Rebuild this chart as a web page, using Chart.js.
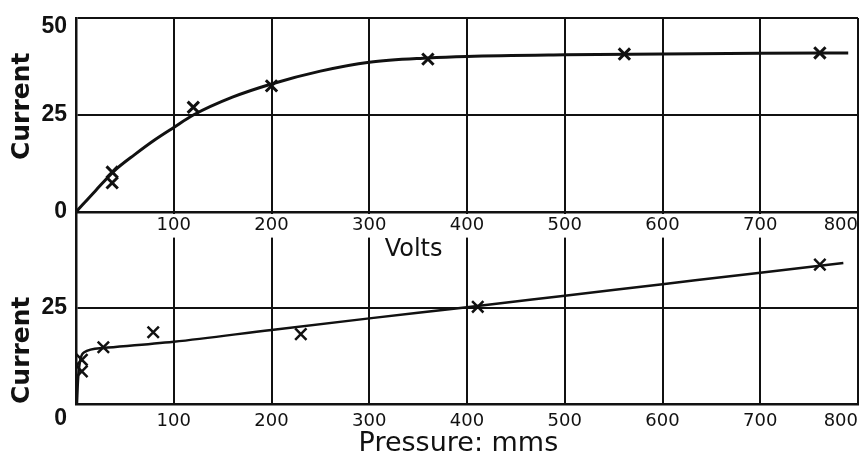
<!DOCTYPE html>
<html>
<head>
<meta charset="utf-8">
<script src="https://cdn.jsdelivr.net/npm/chart.js@4.4.0/dist/chart.umd.min.js"></script>
<style>
  body { margin: 0; background: #fff; }
  #wrap { position: relative; width: 862px; height: 458px; }
  canvas { position: absolute; left: 0; top: 0; }
  #pressureChart { z-index: 1; }
  #voltsChart { z-index: 2; }
</style>
</head>
<body>
<div id="wrap">
  <canvas id="pressureChart" width="862" height="458"></canvas>
  <canvas id="voltsChart" width="862" height="270"></canvas>
</div>
<script>
// top panel : current against volts
const voltsMeasured = [37, 37, 120, 200, 360, 561, 761];
const voltsCurrent = [10.3, 7.5, 27, 32.5, 39.4, 40.7, 41];
const voltsCurveX = [0, 20, 40, 60, 80, 100, 120, 160, 200, 250, 300, 360, 400, 500, 600, 700, 790];
const voltsCurveY = [0, 5.5, 10.8, 14.8, 18.5, 21.8, 25, 29.6, 33, 36.3, 38.6, 39.7, 40.1, 40.5, 40.7, 40.9, 41];

// bottom panel : current against pressure
const pressureMeasured = [6, 6, 28, 79, 230, 411, 761];
const pressureCurrent = [8.5, 11.5, 14.8, 18.7, 18.2, 25.3, 36.3];
const pressureCurveX = [1, 2, 4, 8, 28, 100, 200, 300, 400, 500, 600, 700, 785];
const pressureCurveY = [0, 6, 11, 13.4, 14.6, 16.2, 19.3, 22.3, 25.2, 28.2, 31.2, 34.2, 36.7];

// tick values
const xTickValues = [0, 100, 200, 300, 400, 500, 600, 700, 800];
const yTickValues = [0, 25, 50];

const INK = "#111";
Chart.defaults.font.family = "DejaVu Sans";
Chart.defaults.color = INK;

const pts = (xs, ys) => xs.map((x, i) => ({ x: x, y: ys[i] }));

const curveSet = (data, width) => ({
  type: "line",
  data: data,
  borderColor: INK,
  borderWidth: width,
  pointRadius: 0,
  cubicInterpolationMode: "monotone",
  fill: false
});

const markerSet = (data, width) => ({
  type: "scatter",
  data: data,
  showLine: false,
  pointStyle: "crossRot",
  pointRadius: 8,
  borderColor: INK,
  borderWidth: width,
  clip: false
});

const gridOpts = { color: INK, lineWidth: 2, drawTicks: false };
const borderOpts = { display: true, color: INK, width: 2.5 };

// fixed axis sizes, no extra room asked for the end labels
const fitY = axis => {
  axis.width = 76;
  axis.paddingTop = 0;
  axis.paddingBottom = 0;
};
const fitX = h => axis => {
  axis.height = h;
  axis.paddingLeft = 0;
  axis.paddingRight = 0;
};

// bottom chart goes first, the top one lies over it
new Chart(document.getElementById("pressureChart"), {
  data: {
    datasets: [
      curveSet(pts(pressureCurveX, pressureCurveY), 2.5),
      markerSet(pts(pressureMeasured, pressureCurrent), 2.5)
    ]
  },
  options: {
    responsive: false,
    animation: false,
    layout: { autoPadding: false, padding: { top: 212, right: 4, left: 0, bottom: 0 } },
    plugins: { legend: { display: false }, tooltip: { enabled: false } },
    scales: {
      x: {
        type: "linear", min: 0, max: 800,
        afterBuildTicks: axis => { axis.ticks = xTickValues.map(v => ({ value: v })); },
        afterFit: fitX(54),
        grid: gridOpts, border: borderOpts,
        ticks: {
          align: "inner", maxRotation: 0, padding: 7,
          font: { size: 18 },
          callback: v => (v === 0 ? "" : String(v))
        },
        title: {
          display: true, text: "Pressure: mms  ",
          font: { size: 27, lineHeight: 1 },
          padding: { top: 0, bottom: 1 }
        }
      },
      y: {
        type: "linear", min: 0, max: 50,
        afterBuildTicks: axis => { axis.ticks = yTickValues.map(v => ({ value: v })); },
        afterFit: fitY,
        grid: gridOpts, border: borderOpts,
        ticks: {
          padding: 9,
          font: { family: "Liberation Sans", weight: "bold", size: 23, lineHeight: 1.25 },
          callback: v => (v === 0 ? ["", "0"] : v === 50 ? "" : String(v))
        },
        title: {
          display: true, text: "Current", align: "start",
          font: { size: 25, weight: "bold", lineHeight: 1 },
          padding: { top: 10, bottom: 0 }
        }
      }
    }
  }
});

new Chart(document.getElementById("voltsChart"), {
  data: {
    datasets: [
      curveSet(pts(voltsCurveX, voltsCurveY), 3),
      markerSet(pts(voltsMeasured, voltsCurrent), 3)
    ]
  },
  options: {
    responsive: false,
    animation: false,
    layout: { autoPadding: false, padding: { top: 18, right: 4, left: 0, bottom: 0 } },
    plugins: { legend: { display: false }, tooltip: { enabled: false } },
    scales: {
      x: {
        type: "linear", min: 0, max: 800,
        afterBuildTicks: axis => { axis.ticks = xTickValues.map(v => ({ value: v })); },
        afterFit: fitX(58),
        grid: gridOpts, border: borderOpts,
        ticks: {
          align: "inner", maxRotation: 0, padding: 3,
          font: { size: 18 },
          showLabelBackdrop: true,
          backdropColor: ctx => (ctx.index === 0 || ctx.index === xTickValues.length - 1 ? "rgba(0,0,0,0)" : "#fff"),
          backdropPadding: { top: 1, bottom: 1, left: 2, right: 2 },
          callback: v => (v === 0 ? "" : String(v))
        },
        title: {
          display: true, text: "Volts" + " ".repeat(14),
          font: { size: 24, lineHeight: 1 },
          padding: { top: 0, bottom: 8 }
        }
      },
      y: {
        type: "linear", min: 0, max: 50,
        afterBuildTicks: axis => { axis.ticks = yTickValues.map(v => ({ value: v })); },
        afterFit: fitY,
        grid: gridOpts, border: borderOpts,
        ticks: {
          padding: 9,
          font: { family: "Liberation Sans", weight: "bold", size: 23, lineHeight: 0.75 },
          callback: v => (v === 50 ? ["", "50"] : String(v))
        },
        title: {
          display: true, text: "  Current",
          font: { size: 25, weight: "bold", lineHeight: 1 },
          padding: { top: 10, bottom: 0 }
        }
      }
    }
  }
});
</script>
</body>
</html>
